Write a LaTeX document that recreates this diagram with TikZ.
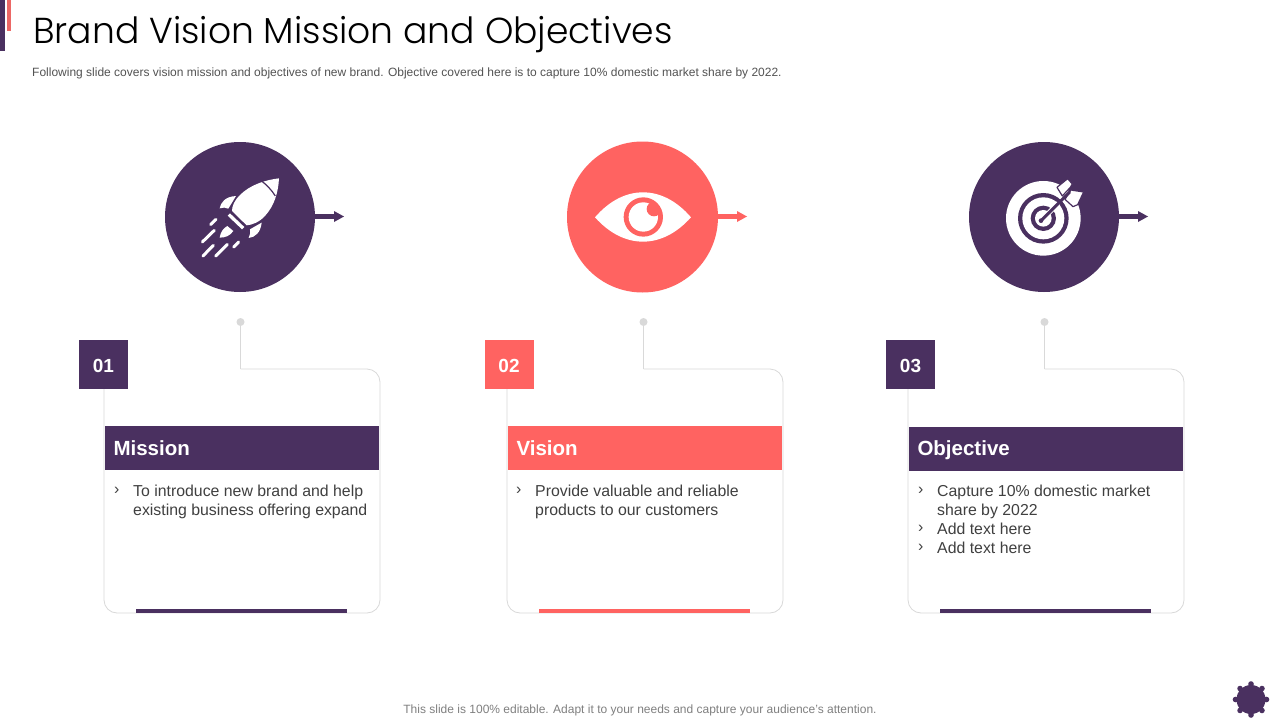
\documentclass[tikz,border=0pt]{standalone}
\usepackage{fontspec}
\setmainfont{Liberation Sans}
\newfontfamily\titlefont{Poppins Light}
\definecolor{plum}{HTML}{4A3060}
\definecolor{coral}{HTML}{FF6361}
\definecolor{edge}{HTML}{D9D9D9}
\definecolor{bodytxt}{HTML}{404040}
\newcommand{\fs}[2]{\fontsize{#1}{#2}\selectfont}
\tikzset{
  cardline/.style={draw=edge,line width=0.8pt,rounded corners=13pt},
  stemline/.style={draw=edge,line width=0.8pt},
  dotnode/.style={circle,fill=edge,minimum size=8pt,inner sep=0pt},
  numbox/.style={minimum width=49pt,minimum height=49pt,inner sep=0pt,text=white,text height=16pt,text depth=0pt,font=\fs{19}{22}\bfseries},
  headbar/.style={minimum width=274pt,minimum height=44pt,inner sep=0pt,text=white,text height=19pt,text depth=5pt,font=\fs{20.5}{24}\bfseries,text width=257pt,align=left},
  bodytext/.style={anchor=north west,inner sep=0pt,text=bodytxt,font=\fs{15.85}{19},align=left},
  bulletmark/.style={anchor=north west,inner sep=0pt,text=bodytxt,font=\fs{15.85}{19}},
  footbar/.style={minimum width=211pt,minimum height=4pt,inner sep=0pt},
  bigdisc/.style={circle,minimum size=150pt,inner sep=0pt},
  pointer/.style={line width=4.3pt},
}
\newcommand{\card}[8]{% tag,leftx,dotx,boxx,col,num,title,headery
  \node[dotnode] (dot#1) at (#3,322) {};
  \coordinate (tl#1) at (#2,369);
  \coordinate (br#1) at (#2+276,613);
  \coordinate (bend#1) at (#3,369);
  \draw[stemline] (dot#1.center) -- (bend#1);
  \draw[cardline] (bend#1) -| (br#1) -| (tl#1|-#4,389);
  \node[numbox,fill=#5] (num#1) at (#4,364.5) {#6};
  \node[headbar,fill=#5] (head#1) at (#2+138,#8) {#7};
  \node[footbar,fill=#5] (foot#1) at (#2+137.5,611) {};
}
\begin{document}
\begin{tikzpicture}[x=1pt,y=-1pt]
\useasboundingbox (0,0) rectangle (1280,720);
\fill[white] (0,0) rectangle (1280,720);
% corner accents
\fill[plum] (0,0) rectangle (5,51);
\fill[coral!85!gray] (7,0) rectangle (11,31);
% header texts
\node[anchor=base west,inner sep=0pt,text=black,font=\titlefont\fs{36.1}{40}] (title) at (33,43) {Brand Vision Mission and Objectives};
\node[anchor=base west,inner sep=0pt,text=bodytxt!90!white,font=\fs{12}{14}] (sub) at (32,76) {Following slide covers vision mission and objectives of new brand. Objective covered here is to capture 10\% domestic market share by 2022.};
\node[anchor=base,inner sep=0pt,text=gray,font=\fs{12}{14}] (note) at (640,713) {This slide is 100\% editable. Adapt it to your needs and capture your audience's attention.};
% cards
\card{a}{104}{240.5}{103.5}{plum}{01}{Mission}{448}
\card{b}{507}{643.5}{509}{coral}{02}{Vision}{448}
\card{c}{908}{1044.5}{910.5}{plum}{03}{Objective}{448.5}
% body text
\node[bulletmark] (ba) at (114,487.5) {›};
\node[bodytext] (ta) at (133,484.5) {To introduce new brand and help\\existing business offering expand};
\node[bulletmark] (bb) at (516,487.5) {›};
\node[bodytext] (tb) at (535,484.5) {Provide valuable and reliable\\products to our customers};
\node[bulletmark,align=left] (bc) at (918,487.5) {›\\[19pt]›\\›};
\node[bodytext] (tc) at (937,484.5) {Capture 10\% domestic market\\share by 2022\\Add text here\\Add text here};
% discs with pointers
\node[bigdisc,fill=plum] (d1) at (240,217) {};
\node[bigdisc,fill=coral,minimum size=151pt] (d2) at (642.5,217) {};
\node[bigdisc,fill=plum] (d3) at (1044,217) {};
\coordinate (p1) at (335,216.5);
\coordinate (p2) at (738,216.5);
\coordinate (p3) at (1139,216.5);
\draw[pointer,plum] (d1.east|-p1) -- (p1);
\fill[plum] (334,211) -- (344,216.5) -- (334,222) -- cycle;
\draw[pointer,coral] (d2.east|-p2) -- (p2);
\fill[coral] (737,211) -- (747,216.5) -- (737,222) -- cycle;
\draw[pointer,plum] (d3.east|-p3) -- (p3);
\fill[plum] (1138,211) -- (1148,216.5) -- (1138,222) -- cycle;
% rocket
\begin{scope}[shift={(150,130)},x=0.3333pt,y=-0.3333pt]
\fill[white] (387,145) .. controls (345,150) and (300,165) .. (270,195) .. controls (253,212) and (246,228) .. (246,243) -- (290,286) .. controls (305,285) and (327,277) .. (344,259) .. controls (374,227) and (385,185) .. (387,145) -- cycle;
\draw[plum,line width=1.2pt] (335,153) .. controls (350,165) and (365,180) .. (376,198);
\fill[white] (240,250) -- (283,291) -- (276,298) -- (233,257) -- cycle;
\fill[white] (209,235) .. controls (212,218) and (225,200) .. (258,198) -- (235,236) .. controls (228,232) and (218,232) .. (209,235) -- cycle;
\fill[white] (296,324) .. controls (315,322) and (332,308) .. (335,278) -- (300,298) .. controls (302,306) and (300,315) .. (296,324) -- cycle;
\fill[white] (209,323) .. controls (212,305) and (220,295) .. (232,288) -- (250,303) .. controls (240,318) and (225,323) .. (209,323) -- cycle;
\draw[white,line width=3pt,line cap=round] (157,336) -- (193,301) (159,378) -- (190,346) (197,378) -- (232,343) (251,351) -- (266,336) (182,284) -- (198,268);
\end{scope}
% eye
\begin{scope}[shift={(555,130)},x=0.3333pt,y=-0.3333pt]
\fill[white] (120,262) .. controls (165,210) and (215,187) .. (264,187) .. controls (313,187) and (363,210) .. (408,262) .. controls (363,312) and (313,335) .. (264,335) .. controls (215,335) and (165,312) .. (120,262) -- cycle;
\fill[coral] (265,261) circle[radius=59];
\fill[white] (265,261) circle[radius=44];
\begin{scope}
\clip (265,261) circle[radius=50];
\fill[coral] (297,237) circle[radius=22];
\end{scope}
\end{scope}
% target
\begin{scope}[shift={(955,130)},x=0.3333pt,y=-0.3333pt]
\fill[white] (265,265) circle[radius=112];
\fill[plum] (265,265) circle[radius=76];
\fill[white] (265,265) circle[radius=63];
\fill[plum] (265,265) circle[radius=38];
\fill[white] (265,265) circle[radius=25];
\draw[white,line width=5pt] (280,250) -- (310,220);
\draw[plum,line width=1.2pt,fill=white,line join=round] (306,172) -- (338,146) -- (352,162) -- (346,172) -- (322,198) -- cycle;
\draw[plum,line width=1.2pt,fill=white,line join=round] (347,180) -- (386,186) -- (368,224) -- (354,230) -- (330,208) -- cycle;
\draw[plum,line width=3pt,line cap=round] (258,272) -- (344,186);
\fill[plum] (258,272) circle[radius=7];
\end{scope}
% gear
\node[circle,fill=plum,minimum size=29pt,inner sep=0pt] (gear) at (1251,699.5) {};
\foreach \a in {0,45,...,315}{
  \fill[plum] (gear.center) ++(\a:15.5) circle[radius=2.8];
}
\end{tikzpicture}
\end{document}
